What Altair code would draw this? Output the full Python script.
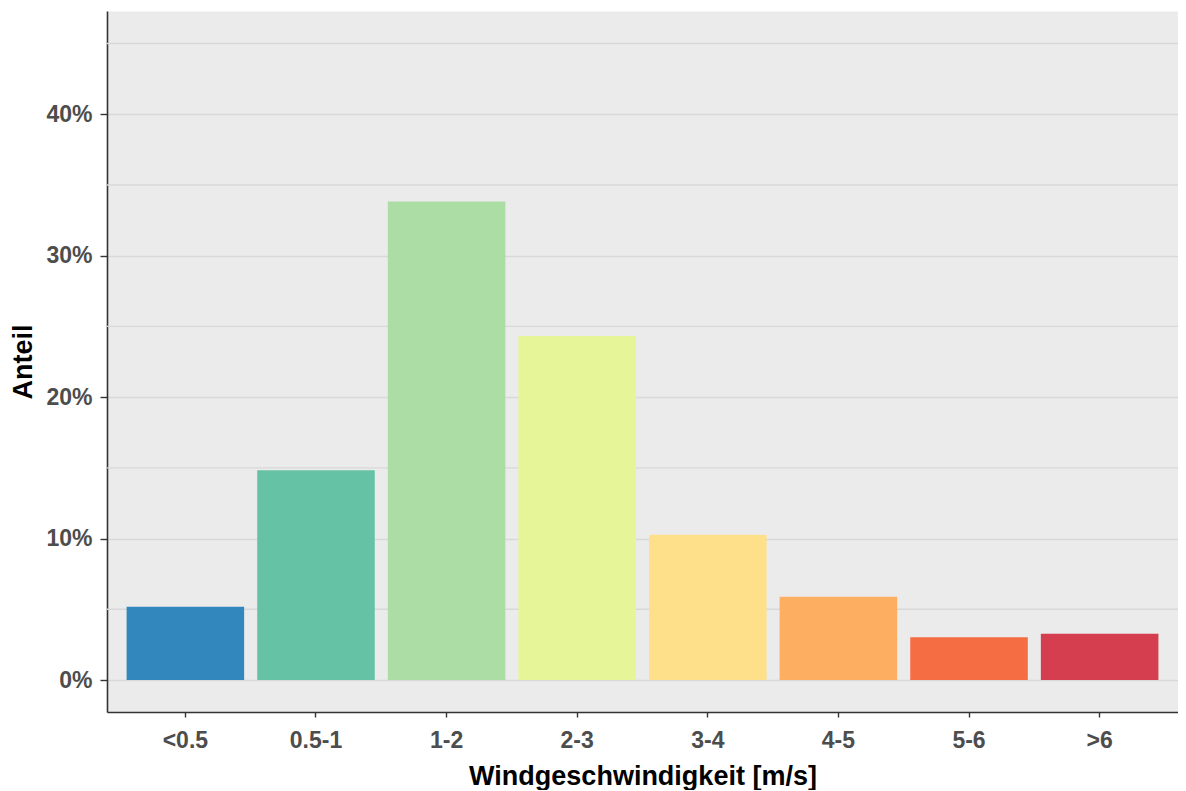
import altair as alt
import pandas as pd

categories = ["<0.5", "0.5-1", "1-2", "2-3", "3-4", "4-5", "5-6", ">6"]
shares = [5.18, 14.84, 33.83, 24.32, 10.28, 5.89, 3.02, 3.27]
colors = ["#3288BD", "#66C2A5", "#ABDDA4", "#E6F598", "#FEE08B", "#FDAE61", "#F46D43", "#D53E4F"]
major_ticks = [0, 10, 20, 30, 40]
minor_grid = [5, 15, 25, 35, 45]
y_domain = [-2.26, 47.3]

df = pd.DataFrame({"cat": categories, "share": shares})
grid_df = pd.DataFrame({"v": minor_grid})

yscale = alt.Scale(domain=y_domain, nice=False, zero=False)
yaxis = alt.Axis(
    title="Anteil",
    values=major_ticks,
    labelExpr="datum.value + '%'",
    grid=True,
    tickSize=7,
    labelPadding=8,
    titlePadding=8,
)

minor = alt.Chart(grid_df).mark_rule(color="#D8D8D8", strokeWidth=1.4).encode(
    y=alt.Y("v:Q", scale=yscale, axis=yaxis, title="Anteil")
)

bars = alt.Chart(df).mark_bar().encode(
    x=alt.X(
        "cat:N",
        sort=categories,
        scale=alt.Scale(paddingInner=0.1, paddingOuter=0.15),
        axis=alt.Axis(
            title="Windgeschwindigkeit [m/s]",
            labelAngle=0,
            grid=False,
            tickSize=5,
            labelPadding=12,
            titlePadding=11,
        ),
    ),
    y=alt.Y("share:Q", scale=yscale, axis=yaxis, title="Anteil"),
    y2=alt.datum(0),
    color=alt.Color("cat:N", scale=alt.Scale(domain=categories, range=colors), legend=None),
)

chart = (
    alt.layer(minor, bars)
    .properties(
        width=1071,
        height=701,
        autosize=alt.AutoSizeParams(type="none"),
        padding={"left": 99, "top": 3, "right": 0, "bottom": 78},
        background="white",
    )
    .configure_view(fill="#EBEBEB", stroke="transparent")
    .configure_axis(
        domainColor="#333333",
        domainWidth=1.6,
        tickColor="#333333",
        tickWidth=1.4,
        labelFont="Liberation Sans",
        labelFontWeight="bold",
        labelColor="#4D4D4D",
        labelFontSize=23,
        titleFont="Liberation Sans",
        titleFontWeight="bold",
        titleColor="#000000",
        titleFontSize=27,
        gridColor="#D8D8D8",
        gridWidth=1.4,
    )
)

chart.save("out.html", embed_options={"renderer": "svg", "actions": False})
